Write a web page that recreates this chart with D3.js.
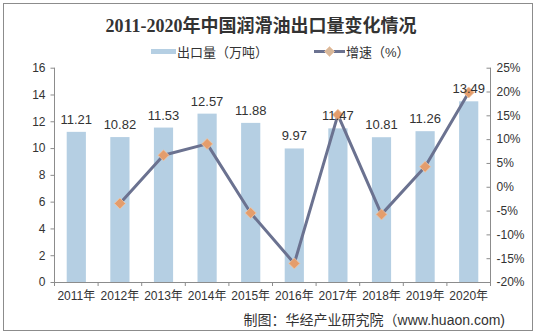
<!DOCTYPE html>
<html><head><meta charset="utf-8">
<script src="https://cdn.jsdelivr.net/npm/d3@7"></script>
<style>body{margin:0;background:#fff}svg{display:block}</style>
</head><body><svg id="c" width="536" height="335"></svg>
<script>
const years = ["2011年","2012年","2013年","2014年","2015年","2016年","2017年","2018年","2019年","2020年"];
const exportVol = [11.21,10.82,11.53,12.57,11.88,9.97,11.47,10.81,11.26,13.49];
const growth = [null,-3.5,6.6,9.0,-5.5,-16.1,15.1,-5.8,4.2,19.8];
const leftTicks = [0,2,4,6,8,10,12,14,16];
const rightTicks = [-20,-15,-10,-5,0,5,10,15,20,25];

const svg = d3.select("#c");
const F = "'Liberation Sans', Arial, 'Noto Sans CJK SC', sans-serif";
const L = 54.5, R = 490.5, T = 67.7, B = 282;

svg.append("rect").attr("x",3.5).attr("y",3.5).attr("width",529).attr("height",327)
  .attr("fill","#fff").attr("stroke","#8c8c8c");

const x = d3.scaleBand().domain(years).range([L,R]).paddingInner(0.56).paddingOuter(0.28);
const xb = d3.scaleBand().domain(years).range([L,R]);
const y = d3.scaleLinear().domain([0,16]).range([B,T]);
const y2 = d3.scaleLinear().domain([-20,25]).range([B,T]);

// bars
svg.selectAll(".bar").data(years).enter().append("rect")
  .attr("x",d=>x(d)).attr("width",x.bandwidth())
  .attr("y",(d,i)=>y(exportVol[i])).attr("height",(d,i)=>B-y(exportVol[i]))
  .attr("fill","#b5cfe3");

// left axis
const ga = svg.append("g").attr("transform",`translate(${L},0)`)
  .call(d3.axisLeft(y).tickValues(leftTicks).tickSize(4).tickPadding(5).tickFormat(d3.format("d")));
// right axis (ticks inward)
const gr = svg.append("g").attr("transform",`translate(${R},0)`)
  .call(d3.axisRight(y2).tickValues(rightTicks).tickSize(0).tickPadding(6).tickFormat(d=>d+"%"));
gr.selectAll(".tick").append("line").attr("x1",-4).attr("x2",0).attr("stroke","#8c8c8c");
// bottom axis
const gb = svg.append("g").attr("transform",`translate(0,${B})`)
  .call(d3.axisBottom(xb).tickSize(0).tickPadding(9));
gb.selectAll(".tick line").remove();
gb.selectAll(".bt").data(years.concat(["end"])).enter().append("line")
  .attr("x1",(d,i)=>L+i*xb.bandwidth()).attr("x2",(d,i)=>L+i*xb.bandwidth())
  .attr("y1",0).attr("y2",4).attr("stroke","#8c8c8c");

[ga,gr,gb].forEach(g=>{
  g.selectAll(".domain").attr("stroke","#8c8c8c");
  g.selectAll(".tick line").attr("stroke","#8c8c8c");
  g.selectAll("text").attr("font-family",F).attr("font-size",12).attr("fill","#333");
});
gr.selectAll("path.domain").attr("d",`M0,${B}V${T}`);
ga.selectAll("path.domain").attr("d",`M0,${T}V${B}`);

// line
const pts = years.map((d,i)=>({d,v:growth[i]})).filter(p=>p.v!==null);
const line = d3.line().x(p=>xb(p.d)+xb.bandwidth()/2).y(p=>y2(p.v));
svg.append("path").datum(pts).attr("d",line).attr("fill","none")
  .attr("stroke","#6b7290").attr("stroke-width",3).attr("stroke-linejoin","round");
const dia = "M0,-5.5L5.5,0L0,5.5L-5.5,0Z";
svg.selectAll(".mk").data(pts).enter().append("path").attr("d",dia)
  .attr("transform",p=>`translate(${xb(p.d)+xb.bandwidth()/2},${y2(p.v)})`)
  .attr("fill","#e49d6c").attr("stroke","#f0c8a8").attr("stroke-width",0.8);

// labels
svg.selectAll(".lab").data(years).enter().append("text")
  .attr("x",d=>xb(d)+xb.bandwidth()/2).attr("y",(d,i)=>y(exportVol[i])-8)
  .attr("text-anchor","middle").attr("font-family",F).attr("font-size",13).attr("fill","#333")
  .text((d,i)=>exportVol[i].toFixed(2));

// title
svg.append("text").attr("x",261).attr("y",32).attr("text-anchor","middle")
  .attr("font-family","'Liberation Serif','Noto Sans CJK SC',serif").attr("font-weight","bold")
  .attr("font-size",18).attr("fill","#333").text("2011-2020年中国润滑油出口量变化情况");

// legend
svg.append("rect").attr("x",151).attr("y",49).attr("width",25).attr("height",5).attr("fill","#b5cfe3");
svg.append("text").attr("x",177).attr("y",57).attr("font-family",F).attr("font-size",13).attr("fill","#333").text("出口量（万吨）");
svg.append("line").attr("x1",314).attr("x2",345).attr("y1",51.5).attr("y2",51.5).attr("stroke","#6b7290").attr("stroke-width",3);
svg.append("path").attr("d","M0,-5L5,0L0,5L-5,0Z").attr("transform","translate(329.5,51.5)").attr("fill","#d8b89a").attr("stroke","#f0c8a8").attr("stroke-width",0.8);
svg.append("text").attr("x",346).attr("y",57).attr("font-family",F).attr("font-size",13).attr("fill","#333").text("增速（%）");

// source
svg.append("text").attr("x",505).attr("y",325).attr("text-anchor","end")
  .attr("font-family",F).attr("font-size",14).attr("fill","#333").text("制图：华经产业研究院（www.huaon.com)");
</script></body></html>
